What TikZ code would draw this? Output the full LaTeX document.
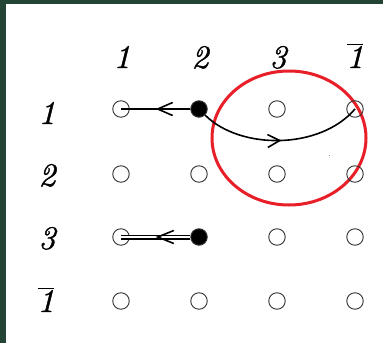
\documentclass[tikz,border=0pt]{standalone}
\usepackage{fontspec}
\newfontfamily\lblfont[FakeBold=1.2]{lmroman10-italic.otf}
\usetikzlibrary{arrows.meta,decorations.markings}
\definecolor{framegreen}{RGB}{36,68,54}
\definecolor{ringred}{RGB}{232,30,40}
\begin{document}
\begin{tikzpicture}[x=1pt,y=-1pt,
  dot/.style={circle, draw=black!80, line width=0.9pt, minimum size=16.5pt, inner sep=0pt},
  fulldot/.style={dot, fill=black},
  lbl/.style={font=\fontsize{33}{40}\selectfont\lblfont, inner sep=0pt, anchor=base},
  link/.style={line width=1.6pt},
  midarrow/.style={postaction={decorate}, decoration={markings, mark=at position 0.5 with {\arrow{Straight Barb[length=#1,width=13pt,line width=1.6pt]}}}}
]
\useasboundingbox (0,0) rectangle (383,343);
\fill[framegreen] (0,0) rectangle (383,343);
\fill[white] (6,4) rectangle (383,343);

% red ring
\draw[ringred, line width=3pt] (289,138) ellipse [x radius=77pt, y radius=67pt];
\fill[black!45] (328.5,154.5) rectangle (330,156);

% column labels
\node[lbl] (c1) at (122,68) {1};
\node[lbl] (c2) at (200,68) {2};
\node[lbl] (c3) at (278,68) {3};
\node[lbl] (c4) at (355,68) {$\overline{\hbox{\lblfont 1}}$};
% row labels
\node[lbl] (r1) at (47,124) {1};
\node[lbl] (r2) at (47,186) {2};
\node[lbl] (r3) at (47,249) {3};
\node[lbl] (r4) at (46,312) {$\overline{\hbox{\lblfont 1}}$};

% grid
\node[dot] (n11) at (121,109) {};
\node[fulldot] (n12) at (199,109) {};
\node[dot] (n13) at (277,109) {};
\node[dot] (n14) at (355,109) {};
\node[dot] (n21) at (121,174) {};
\node[dot] (n22) at (199,174) {};
\node[dot] (n23) at (277,174) {};
\node[dot] (n24) at (355,174) {};
\node[dot] (n31) at (121,237) {};
\node[fulldot] (n32) at (199,237) {};
\node[dot] (n33) at (277,237) {};
\node[dot] (n34) at (355,237) {};
\node[dot] (n41) at (121,301) {};
\node[dot] (n42) at (199,301) {};
\node[dot] (n43) at (277,301) {};
\node[dot] (n44) at (355,301) {};

% connectors
\draw[link, midarrow=15pt] (n12) -- (n11.center);
\draw[link, midarrow=12pt] (n12) .. controls (240,150) and (320,150) .. (n14.center);
\draw[line width=1.4pt, double, double distance=2.2pt] (n32) -- (n31.center);
\path[midarrow=16pt] (n32) -- (n31.center);
\end{tikzpicture}
\end{document}
